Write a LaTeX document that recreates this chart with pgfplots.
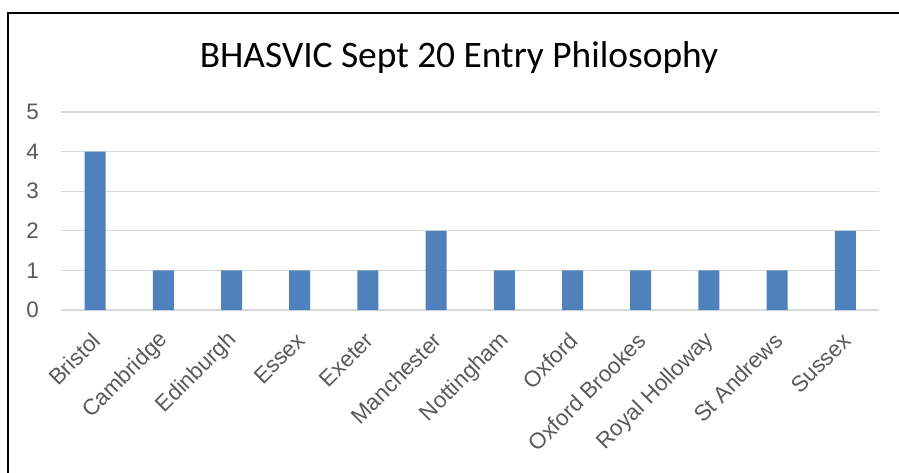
\documentclass[border=0pt]{standalone}
\usepackage{fontspec}
\setmainfont{Liberation Sans}
\newfontfamily\calibri{Carlito}
\usepackage{pgfplots}
\pgfplotsset{compat=1.18}
\definecolor{barblue}{RGB}{79,129,189}
\definecolor{gridgray}{RGB}{217,217,217}
\definecolor{labgray}{RGB}{89,89,89}
\begin{document}
\begin{tikzpicture}
\useasboundingbox (0,0) rectangle (449.5pt,236pt);
\draw[line width=1.2pt] (4pt,-2pt) -- (4pt,229.5pt) -- (452pt,229.5pt);
\node[font=\calibri\fontsize{18.7}{20}\selectfont, anchor=base, inner sep=0pt] at (229.5pt,202pt) {BHASVIC Sept 20 Entry Philosophy};
\begin{axis}[
  at={(30.5pt,81pt)}, anchor=south west,
  scale only axis, width=409.2pt, height=99pt,
  xmin=-0.5, xmax=11.5, ymin=0, ymax=5,
  ytick={0,1,2,3,4,5},
  xtick={0,1,2,3,4,5,6,7,8,9,10,11},
  xticklabels={Bristol,Cambridge,Edinburgh,Essex,Exeter,Manchester,Nottingham,Oxford,Oxford Brookes,Royal Holloway,St Andrews,Sussex},
  ymajorgrids, grid style={gridgray, line width=0.6pt},
  axis line style={draw=none}, tick style={draw=none},
  /pgf/number format/assume math mode=true,
  tick label style={font=\fontsize{11.2}{13}\selectfont, text=labgray},
  yticklabel style={anchor=east, xshift=-7.5pt},
  x tick label style={rotate=45, anchor=east, xshift=-2.5pt, yshift=-7pt},
  ybar, bar width=10.5pt,
]
\addplot[fill=barblue, draw=none] coordinates {(0,4) (1,1) (2,1) (3,1) (4,1) (5,2) (6,1) (7,1) (8,1) (9,1) (10,1) (11,2)};
\end{axis}
\end{tikzpicture}
\end{document}
